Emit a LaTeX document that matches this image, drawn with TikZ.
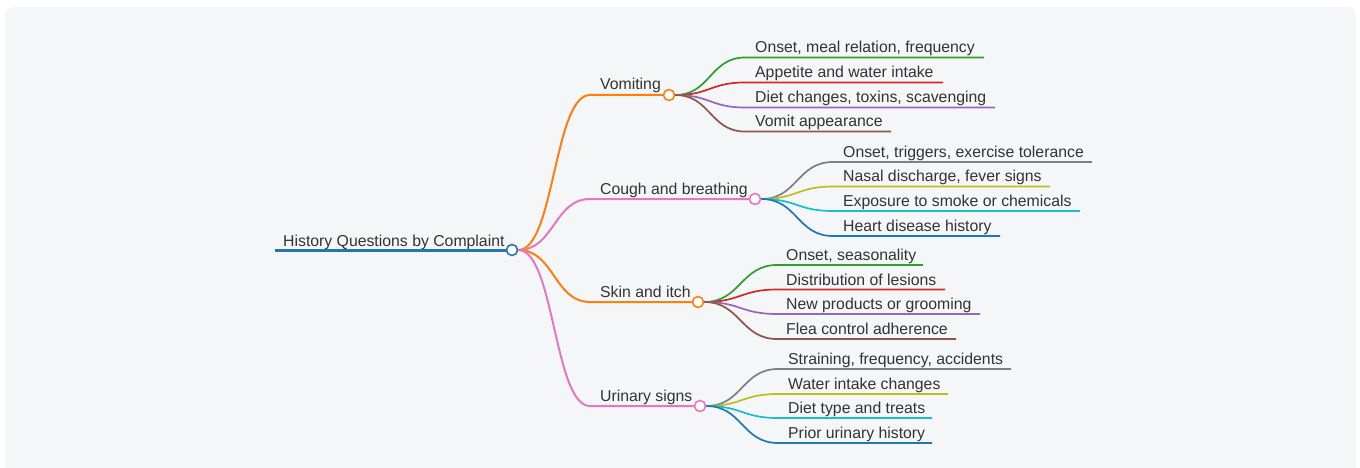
\documentclass[tikz,border=0pt]{standalone}
\usepackage{fontspec}
\setmainfont{Liberation Sans}
\definecolor{pagebg}{HTML}{F5F6F8}
\definecolor{inktext}{HTML}{333333}
\definecolor{mapblue}{HTML}{1F77B4}
\definecolor{maporange}{HTML}{FF7F0E}
\definecolor{mappink}{HTML}{E377C2}
\definecolor{mapgreen}{HTML}{2CA02C}
\definecolor{mapred}{HTML}{D62728}
\definecolor{mappurple}{HTML}{9467BD}
\definecolor{mapbrown}{HTML}{8C564B}
\definecolor{mapgray}{HTML}{7F7F7F}
\definecolor{mapolive}{HTML}{BCBD22}
\definecolor{mapcyan}{HTML}{17BECF}
\tikzset{
	labelnode/.style={
			anchor=base west,
			inner sep=0pt,
			text=inktext,
			font=\fontsize{15.8}{18}\selectfont
		},
	knobnode/.style={
			circle,
			draw=#1,
			fill=white,
			line width=1.6pt,
			minimum size=11pt,
			inner sep=0pt
		},
	rootline/.style={draw=mapblue, line width=3pt},
	branchline/.style={draw=#1, line width=2pt},
	leafline/.style={draw=#1, line width=1.7pt}
}

\begin{document}
\begin{tikzpicture}[x=1pt, y=-1pt]

  \useasboundingbox (0,0) rectangle (1360,468);
  \fill[pagebg, rounded corners=8pt] (5,7) rectangle (1356,490);

  % root
  \coordinate (r0) at (275,250);
  \node[labelnode] (root) at (283,246) {History Questions by Complaint};
  \draw[rootline] (r0) -- (512,250);
  \node[knobnode=mapblue] (rk) at (512,250) {};

  % main branches
  \coordinate (s1) at (590,95);
  \coordinate (s2) at (590,199);
  \coordinate (s3) at (590,302);
  \coordinate (s4) at (590,406);

  \node[labelnode] (c1) at (600,90) {Vomiting};
  \node[labelnode] (c2) at (600,194) {Cough and breathing};
  \node[labelnode] (c3) at (600,297) {Skin and itch};
  \node[labelnode] (c4) at (600,401) {Urinary signs};

  \draw[branchline=maporange] (rk.east) .. controls +(36,0) and +(-36,0) .. (s1) -- (669,95);
  \draw[branchline=mappink] (rk.east) .. controls +(36,0) and +(-36,0) .. (s2) -- (755,199);
  \draw[branchline=maporange] (rk.east) .. controls +(36,0) and +(-36,0) .. (s3) -- (698,302);
  \draw[branchline=mappink] (rk.east) .. controls +(36,0) and +(-36,0) .. (s4) -- (700,406);

  \node[knobnode=maporange] (k1) at (669,95) {};
  \node[knobnode=mappink] (k2) at (755,199) {};
  \node[knobnode=maporange] (k3) at (698,302) {};
  \node[knobnode=mappink] (k4) at (700,406) {};

  % vomiting
  \coordinate (a11) at (745,57.5);  \coordinate (b11) at (984,57.5);
  \coordinate (a12) at (745,82.5);  \coordinate (b12) at (943,82.5);
  \coordinate (a13) at (745,107.5); \coordinate (b13) at (995,107.5);
  \coordinate (a14) at (745,131.5); \coordinate (b14) at (891,131.5);
  \node[labelnode] (l11) at (755,53) {Onset, meal relation, frequency};
  \node[labelnode] (l12) at (755,78) {Appetite and water intake};
  \node[labelnode] (l13) at (755,103) {Diet changes, toxins, scavenging};
  \node[labelnode] (l14) at (755,127) {Vomit appearance};
  \draw[leafline=mapgreen] (k1.east) .. controls +(35,0) and +(-35,0) .. (a11) -- (b11);
  \draw[leafline=mapred] (k1.east) .. controls +(35,0) and +(-35,0) .. (a12) -- (b12);
  \draw[leafline=mappurple] (k1.east) .. controls +(35,0) and +(-35,0) .. (a13) -- (b13);
  \draw[leafline=mapbrown] (k1.east) .. controls +(35,0) and +(-35,0) .. (a14) -- (b14);

  % cough and breathing
  \coordinate (a21) at (833,162);   \coordinate (b21) at (1092,162);
  \coordinate (a22) at (833,186.5); \coordinate (b22) at (1050,186.5);
  \coordinate (a23) at (833,211);   \coordinate (b23) at (1080,211);
  \coordinate (a24) at (833,236);   \coordinate (b24) at (1000,236);
  \node[labelnode] (l21) at (843,157.5) {Onset, triggers, exercise tolerance};
  \node[labelnode] (l22) at (843,182) {Nasal discharge, fever signs};
  \node[labelnode] (l23) at (843,206.5) {Exposure to smoke or chemicals};
  \node[labelnode] (l24) at (843,231.5) {Heart disease history};
  \draw[leafline=mapgray] (k2.east) .. controls +(36,0) and +(-36,0) .. (a21) -- (b21);
  \draw[leafline=mapolive] (k2.east) .. controls +(36,0) and +(-36,0) .. (a22) -- (b22);
  \draw[leafline=mapcyan] (k2.east) .. controls +(36,0) and +(-36,0) .. (a23) -- (b23);
  \draw[leafline=mapblue] (k2.east) .. controls +(36,0) and +(-36,0) .. (a24) -- (b24);

  % skin and itch
  \coordinate (a31) at (777,265);   \coordinate (b31) at (923,265);
  \coordinate (a32) at (777,289.5); \coordinate (b32) at (945,289.5);
  \coordinate (a33) at (777,314);   \coordinate (b33) at (980,314);
  \coordinate (a34) at (777,339);   \coordinate (b34) at (956,339);
  \node[labelnode] (l31) at (786,260.5) {Onset, seasonality};
  \node[labelnode] (l32) at (786,285) {Distribution of lesions};
  \node[labelnode] (l33) at (786,309.5) {New products or grooming};
  \node[labelnode] (l34) at (786,334.5) {Flea control adherence};
  \draw[leafline=mapgreen] (k3.east) .. controls +(36,0) and +(-36,0) .. (a31) -- (b31);
  \draw[leafline=mapred] (k3.east) .. controls +(36,0) and +(-36,0) .. (a32) -- (b32);
  \draw[leafline=mappurple] (k3.east) .. controls +(36,0) and +(-36,0) .. (a33) -- (b33);
  \draw[leafline=mapbrown] (k3.east) .. controls +(36,0) and +(-36,0) .. (a34) -- (b34);

  % urinary signs
  \coordinate (a41) at (778,369);   \coordinate (b41) at (1011,369);
  \coordinate (a42) at (778,394);   \coordinate (b42) at (948,394);
  \coordinate (a43) at (778,418);   \coordinate (b43) at (932,418);
  \coordinate (a44) at (778,443);   \coordinate (b44) at (932,443);
  \node[labelnode] (l41) at (788,364.5) {Straining, frequency, accidents};
  \node[labelnode] (l42) at (788,389.5) {Water intake changes};
  \node[labelnode] (l43) at (788,413.5) {Diet type and treats};
  \node[labelnode] (l44) at (788,438.5) {Prior urinary history};
  \draw[leafline=mapgray] (k4.east) .. controls +(36,0) and +(-36,0) .. (a41) -- (b41);
  \draw[leafline=mapolive] (k4.east) .. controls +(36,0) and +(-36,0) .. (a42) -- (b42);
  \draw[leafline=mapcyan] (k4.east) .. controls +(36,0) and +(-36,0) .. (a43) -- (b43);
  \draw[leafline=mapblue] (k4.east) .. controls +(36,0) and +(-36,0) .. (a44) -- (b44);

\end{tikzpicture}
\end{document}
